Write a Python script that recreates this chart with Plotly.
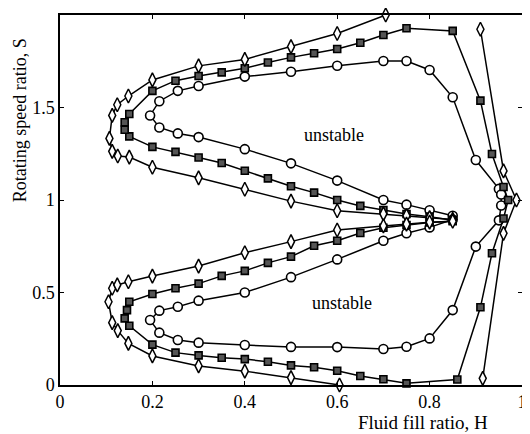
import plotly.graph_objects as go

# Circles (innermost curve)
circ_H = [0.85, 0.8, 0.75, 0.7, 0.6, 0.5, 0.4, 0.3, 0.255, 0.215, 0.195, 0.215, 0.255, 0.3, 0.4, 0.5, 0.6, 0.7, 0.75, 0.8, 0.85, 0.9, 0.95, 0.955, 0.955, 0.95, 0.9, 0.85, 0.8, 0.75, 0.7, 0.6, 0.5, 0.4, 0.3, 0.255, 0.215, 0.195, 0.215, 0.255, 0.3, 0.4, 0.5, 0.6, 0.7, 0.75, 0.8, 0.85]
circ_S = [0.915, 0.945, 0.975, 1.0, 1.105, 1.198, 1.275, 1.34, 1.36, 1.392, 1.457, 1.534, 1.59, 1.616, 1.667, 1.693, 1.726, 1.751, 1.751, 1.703, 1.555, 1.216, 1.06, 1.03, 0.97, 0.89, 0.748, 0.405, 0.252, 0.207, 0.195, 0.205, 0.206, 0.216, 0.229, 0.243, 0.283, 0.351, 0.402, 0.423, 0.456, 0.50, 0.583, 0.679, 0.78, 0.82, 0.852, 0.895]

# Squares (middle curve)
sq_H = [0.85, 0.8, 0.75, 0.7, 0.65, 0.6, 0.55, 0.5, 0.45, 0.4, 0.35, 0.3, 0.25, 0.2, 0.15, 0.14, 0.14, 0.15, 0.2, 0.25, 0.3, 0.35, 0.4, 0.45, 0.5, 0.55, 0.6, 0.65, 0.7, 0.75, 0.85, 0.91, 0.935, 0.96, 0.97, 0.96, 0.935, 0.91, 0.86, 0.75, 0.7, 0.65, 0.6, 0.55, 0.5, 0.45, 0.4, 0.35, 0.3, 0.25, 0.2, 0.15, 0.14, 0.145, 0.15, 0.2, 0.25, 0.3, 0.35, 0.4, 0.45, 0.5, 0.55, 0.6, 0.65, 0.7, 0.75, 0.8, 0.85]
sq_S = [0.89, 0.91, 0.924, 0.946, 0.968, 1.0, 1.04, 1.074, 1.117, 1.158, 1.20, 1.23, 1.26, 1.287, 1.344, 1.38, 1.42, 1.465, 1.59, 1.645, 1.67, 1.69, 1.712, 1.743, 1.771, 1.793, 1.816, 1.85, 1.892, 1.928, 1.914, 1.537, 1.249, 1.07, 1.0, 0.9, 0.712, 0.42, 0.03, 0.009, 0.031, 0.049, 0.077, 0.096, 0.106, 0.126, 0.14, 0.147, 0.16, 0.175, 0.218, 0.32, 0.36, 0.405, 0.45, 0.492, 0.523, 0.548, 0.59, 0.617, 0.66, 0.694, 0.753, 0.78, 0.822, 0.85, 0.865, 0.878, 0.885]

# Diamonds (outer curve), None marks breaks where the curve leaves the frame
dia_H = [0.85, 0.8, 0.75, 0.7, 0.6, 0.5, 0.4, 0.3, 0.2, 0.15, 0.125, 0.113, 0.107, 0.113, 0.124, 0.148, 0.2, 0.3, 0.4, 0.5, 0.6, 0.705, None, 0.91, 0.96, 0.988, 0.96, 0.915, None, 0.605, 0.5, 0.4, 0.3, 0.2, 0.148, 0.125, 0.113, 0.105, 0.113, 0.124, 0.148, 0.2, 0.3, 0.4, 0.5, 0.6, 0.7, 0.75, 0.8, 0.85]
dia_S = [0.895, 0.905, 0.915, 0.925, 0.942, 0.994, 1.058, 1.12, 1.177, 1.232, 1.238, 1.263, 1.333, 1.457, 1.515, 1.562, 1.649, 1.725, 1.76, 1.829, 1.90, 2.0, None, 1.923, 1.157, 1.0, 0.82, 0.036, None, 0.0, 0.04, 0.075, 0.103, 0.157, 0.225, 0.294, 0.337, 0.45, 0.523, 0.541, 0.558, 0.589, 0.643, 0.715, 0.775, 0.838, 0.86, 0.87, 0.88, 0.885]

x_ticks = [0, 0.2, 0.4, 0.6, 0.8, 1]
x_tick_text = ["0", "0.2", "0.4", "0.6", "0.8", "1"]
y_ticks = [0, 0.5, 1, 1.5, 2]
y_tick_text = ["0", "0.5", "1", "1.5", "2"]

FONT = "Liberation Serif"
line = dict(color="black", width=1.5)

fig = go.Figure()
fig.add_trace(go.Scatter(x=circ_H, y=circ_S, mode="lines+markers", line=line,
                         marker=dict(symbol="circle", size=9, color="white",
                                     line=dict(color="black", width=1.6)),
                         cliponaxis=False, connectgaps=False))
fig.add_trace(go.Scatter(x=sq_H, y=sq_S, mode="lines+markers", line=line,
                         marker=dict(symbol="square", size=7, color="#555555",
                                     line=dict(color="black", width=1.6)),
                         cliponaxis=False, connectgaps=False))
fig.add_trace(go.Scatter(x=dia_H, y=dia_S, mode="lines+markers", line=line,
                         marker=dict(symbol="diamond-tall", size=10, color="white",
                                     line=dict(color="black", width=1.5)),
                         cliponaxis=False, connectgaps=False))

fig.add_annotation(x=0.593, y=1.351, text="unstable", showarrow=False,
                   font=dict(family=FONT, size=18, color="black"))
fig.add_annotation(x=0.611, y=0.445, text="unstable", showarrow=False,
                   font=dict(family=FONT, size=18, color="black"))
fig.add_annotation(x=0.785, y=-0.102, xref="x", yref="paper", text="Fluid fill ratio, H",
                   showarrow=False, yanchor="middle",
                   font=dict(family=FONT, size=19, color="black"))
fig.add_annotation(x=-0.112, y=0.716, xref="paper", yref="paper", text="Rotating speed ratio, S",
                   showarrow=False, textangle=-90, xanchor="left", yanchor="middle",
                   font=dict(family=FONT, size=18, color="black"))

axis_common = dict(showgrid=False, zeroline=False, showline=True, linecolor="black",
                   linewidth=1.5, mirror="ticks", ticks="inside", ticklen=4,
                   tickcolor="black", tickfont=dict(family=FONT, size=18, color="black"))
fig.update_xaxes(range=[0, 1], tickvals=x_ticks, ticktext=x_tick_text, **axis_common)
fig.update_yaxes(range=[0, 2], tickvals=y_ticks, ticktext=y_tick_text, **axis_common)

# page body has an 8px margin, so the figure is sized to fit the 530x434 window
fig.update_layout(width=522, height=426, showlegend=False,
                  margin=dict(l=52, r=8, t=7, b=49, autoexpand=False),
                  plot_bgcolor="white", paper_bgcolor="white")

fig.write_html("out.html")
